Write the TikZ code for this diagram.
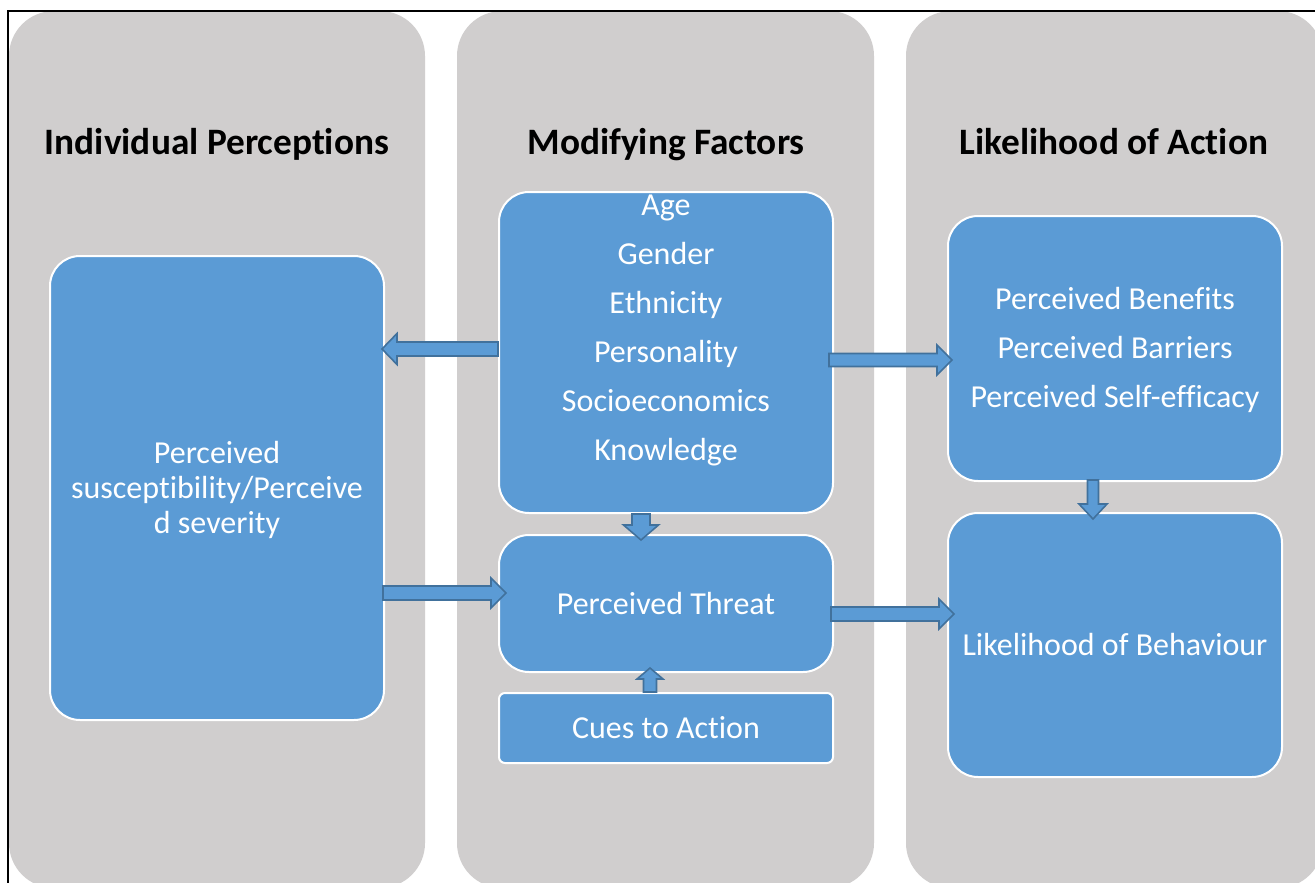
\documentclass[tikz,border=0pt]{standalone}
\usepackage{fontspec}
\setmainfont{Carlito}[Ligatures=NoCommon]
\usetikzlibrary{calc}
\definecolor{panelgrey}{HTML}{D0CECE}
\definecolor{boxblue}{HTML}{5B9BD5}
\definecolor{arrowedge}{HTML}{41719C}
\tikzset{
  panel/.style={fill=panelgrey, draw=none, rounded corners=45pt},
  title/.style={font=\bfseries\fontsize{37.3}{42}\selectfont, text=black, anchor=base},
  bluebox/.style={rectangle, fill=boxblue, draw=white, line width=2pt, rounded corners=30pt,
    text=white, align=center, inner sep=0pt},
  barrow/.style={fill=boxblue, draw=arrowedge, line width=1.6pt, line join=miter},
}
% horizontal block arrow: start, tip, shaft half-width, head half-width, signed head length
\newcommand\harrow[5]{%
  \draw[barrow] let \p1=#1, \p2=#2 in
    (\x1,\y1-#3pt) -- (\x2-#5pt,\y1-#3pt) -- (\x2-#5pt,\y1-#4pt) -- (\x2,\y1)
    -- (\x2-#5pt,\y1+#4pt) -- (\x2-#5pt,\y1+#3pt) -- (\x1,\y1+#3pt) -- cycle;}
% vertical block arrow: start, tip, shaft half-width, head half-width, signed head length (canvas)
\newcommand\varrow[5]{%
  \draw[barrow] let \p1=#1, \p2=#2 in
    (\x1-#3pt,\y1) -- (\x1-#3pt,\y2-#5pt) -- (\x1-#4pt,\y2-#5pt) -- (\x1,\y2)
    -- (\x1+#4pt,\y2-#5pt) -- (\x1+#3pt,\y2-#5pt) -- (\x1+#3pt,\y1) -- cycle;}
\begin{document}
\begin{tikzpicture}[x=1pt,y=-1pt]
\useasboundingbox (0,0) rectangle (1315,883);
\fill[white] (0,0) rectangle (1315,883);
\begin{scope}
\clip (0,0) rectangle (1315,883);
% column panels
\fill[panel] (9,11) rectangle (425,888);
\fill[panel] (457,11) rectangle (874,888);
\fill[panel] (906,11) rectangle (1323,888);
% frame line
\draw[black, line width=1.5pt] (8,883) -- (8,11) -- (1315,11);
\end{scope}

% column titles
\node[title] (t1) at (217,154) {Individual Perceptions};
\node[title] (t2) at (666,154) {Modifying Factors};
\node[title] (t3) at (1114,154) {Likelihood of Action};

\begin{scope}[every node/.append style={font=\fontsize{32}{35}\selectfont}]
% boxes
\node[bluebox, minimum width=334pt, minimum height=464pt] (ip) at (217,488) {};
\node[text=white, align=center] (ipt) at (217,490)
  {Perceived\\susceptibility/Perceive\\d severity};
\node[bluebox, minimum width=334pt, minimum height=321pt] (mf) at (666,352.5) {};
\node[text=white, font=\fontsize{32}{49}\selectfont, align=center] (mft) at (666,330)
  {Age\\Gender\\Ethnicity\\Personality\\Socioeconomics\\Knowledge};
\node[bluebox, minimum width=334pt, minimum height=137pt] (pt) at (666,603.5) {Perceived Threat};
\node[bluebox, minimum width=334pt, minimum height=70pt, rounded corners=6pt] (ca) at (666,728) {Cues to Action};
\node[bluebox, minimum width=334pt, minimum height=265pt] (pb) at (1115,348.5) {};
\node[text=white, font=\fontsize{32}{49}\selectfont, align=center] (pbt) at (1115,350)
  {Perceived Benefits\\Perceived Barriers\\Perceived Self-efficacy};
\node[bluebox, minimum width=334pt, minimum height=264pt] (lb) at (1115,645) {Likelihood of Behaviour};
\end{scope}

% helper rows and columns for the arrows
\coordinate (r1) at (0,349);
\coordinate (r2) at (0,360);
\coordinate (r3) at (0,593);
\coordinate (r4) at (0,614);
\coordinate (c1) at (641,0);
\coordinate (c2) at (1093,0);
\coordinate (c3) at (650,0);

% block arrows
\harrow{($(mf.west |- r1)$)}{($(ip.east |- r1)+(-3,0)$)}{7}{15.5}{-15}
\harrow{($(mf.east |- r2)+(-5,0)$)}{($(pb.west |- r2)+(5,0)$)}{6.5}{15}{15}
\harrow{($(ip.east |- r3)+(-2,0)$)}{($(pt.west |- r3)+(8,0)$)}{7}{15}{15}
\harrow{($(pt.east |- r4)+(-3,0)$)}{($(lb.west |- r4)+(7,0)$)}{7}{15}{15}
\varrow{($(c1 |- mf.south)$)}{($(c1 |- pt.north)+(0,6)$)}{9}{17.5}{-15}
\varrow{($(c2 |- pb.south)+(0,-2)$)}{($(c2 |- lb.north)+(0,7)$)}{5.5}{14}{-15}
\varrow{($(c3 |- ca.north)+(0,0)$)}{($(c3 |- pt.south)+(0,-5)$)}{6.5}{13}{11}
\end{tikzpicture}
\end{document}
